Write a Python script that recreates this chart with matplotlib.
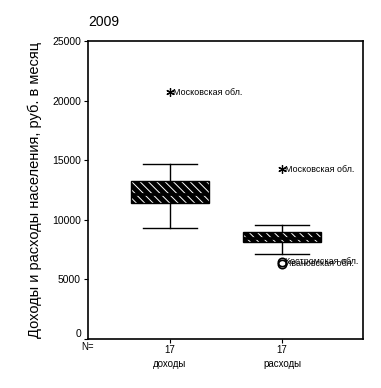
import matplotlib
matplotlib.use("Agg")
import matplotlib.pyplot as plt
import matplotlib.transforms as mtransforms

plt.rcParams["font.family"] = ["Liberation Sans", "DejaVu Sans"]
plt.rcParams["hatch.linewidth"] = 0.7

# SPSS-style boxplot summary, 2009 (rub. per month)
categories = ["доходы", "расходы"]
n_counts = [17, 17]
q1 = [11400, 8110]
median = [12200, 8500]
q3 = [13250, 8980]
whisker_low = [9290, 7130]
whisker_high = [14680, 9560]

# extreme values (*) and outliers (o), with region names
extremes = [(1, 20700, "Московская обл."), (2, 14260, "Московская обл.")]
outliers = [(2, 6480, "Костромская обл."), (2, 6300, "Ивановская обл.")]

fig = plt.figure(figsize=(3.81, 3.88), dpi=100)
ax = fig.add_axes([88 / 381, 49 / 388, 275 / 381, 298 / 388])

positions = list(range(1, len(categories) + 1))
stats = []
for i in range(len(categories)):
    stats.append({
        "med": median[i], "q1": q1[i], "q3": q3[i],
        "whislo": whisker_low[i], "whishi": whisker_high[i],
        "fliers": [],
    })

bp = ax.bxp(stats, positions=positions, widths=0.7, capwidths=0.49,
            patch_artist=True, showfliers=False,
            boxprops=dict(facecolor="black", edgecolor="black", linewidth=1, hatch="\\" * 4),
            medianprops=dict(color="black", linewidth=2),
            whiskerprops=dict(color="black", linewidth=1),
            capprops=dict(color="black", linewidth=1))
for box in bp["boxes"]:
    box._hatch_color = (1, 1, 1, 1)

for x, y, name in extremes:
    ax.plot(x, y, marker=(6, 2, 0), color="black", markersize=6,
            markeredgewidth=0.9, linestyle="none")
    ax.annotate(name, (x, y), xytext=(2, 0), textcoords="offset points",
                fontsize=6.4, va="center", ha="left")
for x, y, name in outliers:
    ax.plot(x, y, marker="o", markerfacecolor="none", markeredgecolor="black",
            markersize=6, markeredgewidth=1.2, linestyle="none")
    ax.annotate(name, (x, y), xytext=(2, 0), textcoords="offset points",
                fontsize=6.4, va="center", ha="left")

ax.set_xlim(0.268, 2.723)
ax.set_ylim(0, 25000)
ax.set_yticks(range(0, 25001, 5000))
ax.tick_params(axis="y", labelsize=7.5, length=3, pad=2)
# SPSS lifts the bottom label clear of the x axis
zero_label = ax.get_yticklabels()[0]
zero_label.set_transform(zero_label.get_transform()
                         + mtransforms.ScaledTranslation(0, 6 / 100, fig.dpi_scale_trans))
ax.set_xticks(positions)
ax.set_xticklabels([f"{n}\n{c}" for n, c in zip(n_counts, categories)],
                   fontsize=7, linespacing=1.6)
ax.tick_params(axis="x", length=3, pad=1)
ax.text(0, -0.027, "N=", transform=ax.transAxes, ha="center", va="center", fontsize=7)

for s in ax.spines.values():
    s.set_linewidth(1.2)

ax.set_ylabel("Доходы и расходы населения, руб. в месяц", fontsize=10.5, labelpad=7)
ax.set_title("2009", loc="left", fontsize=10, pad=11)

fig.savefig("out.png", dpi=100)
